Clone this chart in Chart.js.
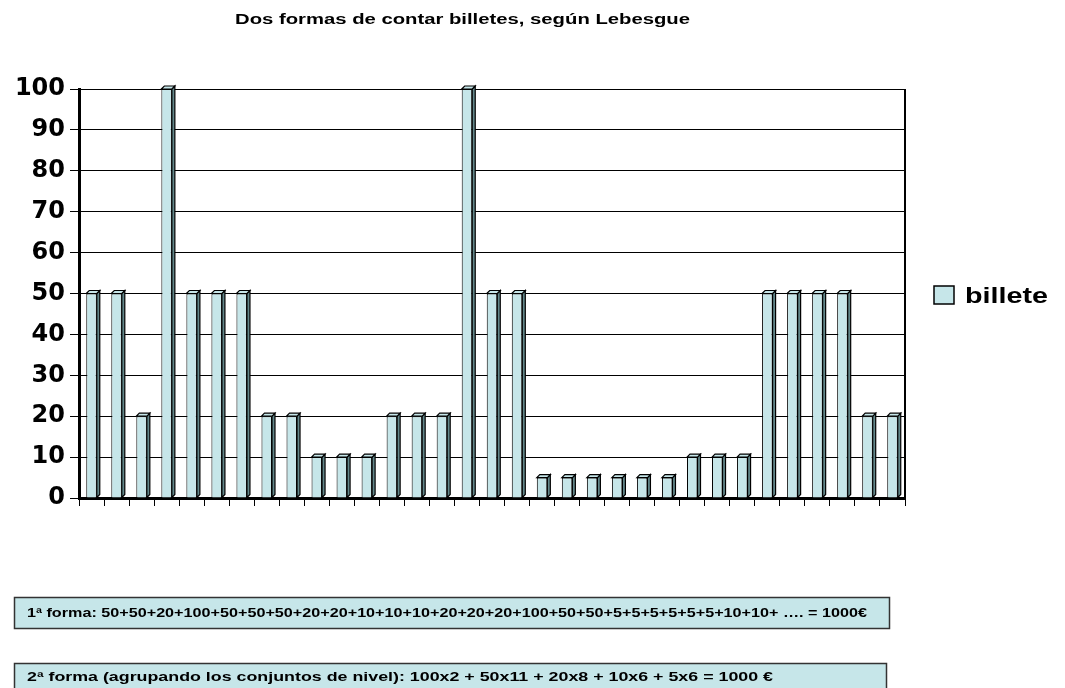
<!DOCTYPE html>
<html>
<head>
<meta charset="utf-8">
<script src="https://cdn.jsdelivr.net/npm/chart.js@4/dist/chart.umd.min.js"></script>
<style>
  html, body { margin: 0; padding: 0; background: #fff; }
  #wrap { width: 1065px; height: 688px; position: relative; }
</style>
</head>
<body>
<div id="wrap"><canvas id="chart"></canvas></div>
<script>
// Data
const chartTitle = 'Dos formas de contar billetes, según Lebesgue';
const seriesLabel = 'billete';
const billetes = [50, 50, 20, 100, 50, 50, 50, 20, 20, 10, 10, 10, 20, 20, 20, 100, 50, 50,
                  5, 5, 5, 5, 5, 5, 10, 10, 10, 50, 50, 50, 50, 20, 20];
const categories = billetes.map(() => '');
const yMin = 0;
const yMax = 100;
const yStep = 10;
const note1 = '1ª forma: 50+50+20+100+50+50+50+20+20+10+10+10+20+20+20+100+50+50+5+5+5+5+5+5+10+10+ …. = 1000€';
const note2 = '2ª forma (agrupando los conjuntos de nivel): 100x2 + 50x11 + 20x8 + 10x6 + 5x6 = 1000 €';

const FACE = '#c6e6e9';
const SIDE = '#62878a';

// draw text squeezed/stretched horizontally to a given width (Excel look)
function fitText(ctx, text, x, y, w, font) {
  ctx.font = font;
  const m = ctx.measureText(text).width;
  ctx.save();
  ctx.translate(x, y);
  ctx.scale(w / m, 1);
  ctx.fillText(text, 0, 0);
  ctx.restore();
}

const decor = {
  id: 'decor',
  afterDatasetsDraw(chart) {
    const ctx = chart.ctx;
    const d = 3;
    ctx.save();
    ctx.lineWidth = 1.2;
    ctx.strokeStyle = '#000';
    chart.getDatasetMeta(0).data.forEach(bar => {
      const { x, y, base, width } = bar.getProps(['x', 'y', 'base', 'width'], true);
      const l = x - width / 2, r = x + width / 2;
      // side face
      ctx.beginPath();
      ctx.moveTo(r, y);
      ctx.lineTo(r + d, y - d);
      ctx.lineTo(r + d, base - d);
      ctx.lineTo(r, base);
      ctx.closePath();
      ctx.fillStyle = SIDE;
      ctx.fill();
      ctx.stroke();
      // top face
      ctx.beginPath();
      ctx.moveTo(l, y);
      ctx.lineTo(l + d, y - d);
      ctx.lineTo(r + d, y - d);
      ctx.lineTo(r, y);
      ctx.closePath();
      ctx.fillStyle = FACE;
      ctx.fill();
      ctx.stroke();
    });
    ctx.restore();
  },
  afterDraw(chart) {
    const ctx = chart.ctx;
    const a = chart.chartArea;
    ctx.save();
    // back wall right edge
    ctx.strokeStyle = '#000';
    ctx.lineWidth = 2;
    ctx.beginPath();
    ctx.moveTo(a.right, a.top);
    ctx.lineTo(a.right, a.bottom);
    ctx.stroke();

    ctx.fillStyle = '#000';
    ctx.textBaseline = 'alphabetic';
    fitText(ctx, chartTitle, 235, 24, 455, 'bold 14px "Liberation Sans", Arial, sans-serif');

    // legend
    ctx.fillStyle = FACE;
    ctx.fillRect(934, 286, 20, 18);
    ctx.lineWidth = 1.5;
    ctx.strokeStyle = '#000';
    ctx.strokeRect(934, 286, 20, 18);
    ctx.fillStyle = '#000';
    fitText(ctx, seriesLabel, 965, 303, 83, 'bold 22px "Liberation Sans", Arial, sans-serif');

    // note boxes
    ctx.lineWidth = 1.5;
    ctx.strokeStyle = '#333';
    ctx.fillStyle = FACE;
    ctx.fillRect(14.5, 597.5, 875, 31);
    ctx.strokeRect(14.5, 597.5, 875, 31);
    ctx.fillRect(14.5, 663.5, 872, 40);
    ctx.strokeRect(14.5, 663.5, 872, 40);
    ctx.fillStyle = '#000';
    fitText(ctx, note1, 27, 617, 840, 'bold 13px "Liberation Sans", Arial, sans-serif');
    fitText(ctx, note2, 27, 681, 746, 'bold 13px "Liberation Sans", Arial, sans-serif');
    ctx.restore();
  }
};

new Chart(document.getElementById('chart'), {
  type: 'bar',
  data: {
    labels: categories,
    datasets: [{
      label: seriesLabel,
      data: billetes,
      backgroundColor: FACE,
      borderColor: '#000',
      borderWidth: 1,
      barPercentage: 0.42,
      categoryPercentage: 1
    }]
  },
  options: {
    responsive: true,
    maintainAspectRatio: false,
    animation: false,
    layout: { padding: { left: 0, top: 89, right: 160, bottom: 180 } },
    scales: {
      x: {
        afterFit: s => { s.height = 10; },
        ticks: { display: false },
        grid: {
          offset: true,
          drawOnChartArea: false,
          drawTicks: true,
          tickLength: 8,
          color: '#000',
          lineWidth: 1
        },
        border: { display: true, color: '#000', width: 3 }
      },
      y: {
        min: yMin,
        max: yMax,
        afterFit: s => { s.width = 79; },
        ticks: {
          stepSize: yStep,
          color: '#000',
          padding: 5,
          font: { family: '"DejaVu Sans"', weight: 'bold', size: 24 }
        },
        grid: { color: '#000', lineWidth: 1, tickLength: 9 },
        border: { display: true, color: '#000', width: 3 }
      }
    },
    plugins: {
      legend: { display: false },
      title: { display: false },
      tooltip: { enabled: false }
    }
  },
  plugins: [decor]
});
</script>
</body>
</html>
